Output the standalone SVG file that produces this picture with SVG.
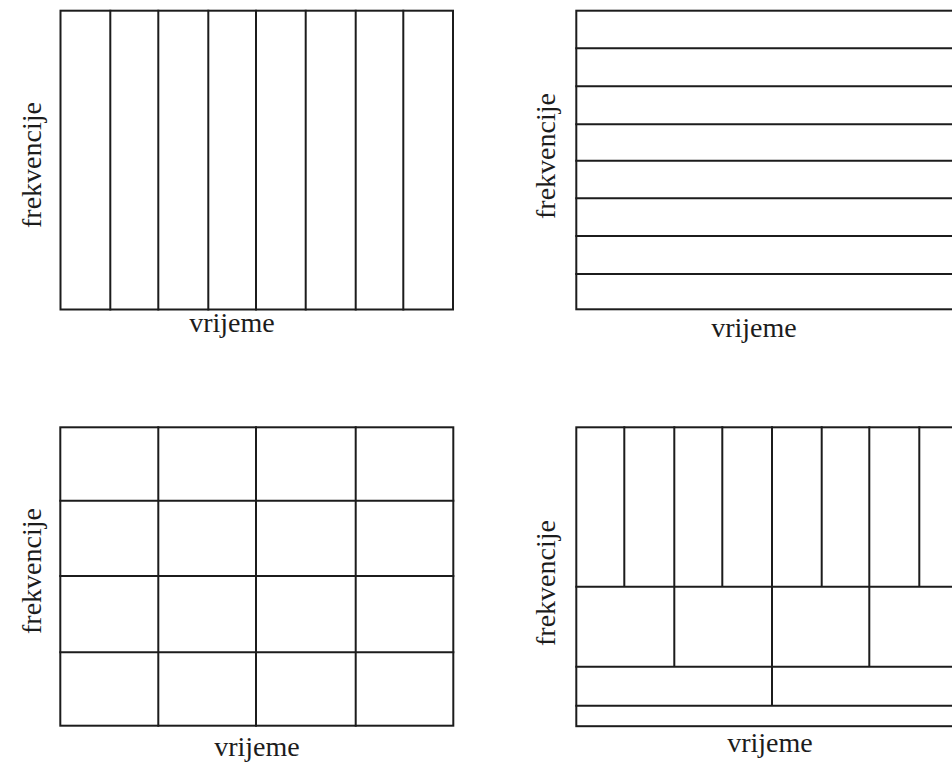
<svg xmlns="http://www.w3.org/2000/svg" width="952" height="765" viewBox="0 0 952 765">
<style>
.ln{stroke:#1c1c1c;stroke-width:2;fill:none;stroke-linecap:square}
.lbl{font-family:'Liberation Serif','Times New Roman','DejaVu Serif',serif;font-size:28px;fill:#1c1c1c;text-anchor:middle}
</style>
<rect width="952" height="765" fill="#ffffff"/>
<g id="panel1">
<rect class="ln" x="60.5" y="10.7" width="392.5" height="298.8"/>
<path class="ln" d="M110.3 10.7V309.5M158.3 10.7V309.5M208.3 10.7V309.5M256 10.7V309.5M305.7 10.7V309.5M355.7 10.7V309.5M403.3 10.7V309.5"/>
<text class="lbl" font-family="Liberation Serif, DejaVu Serif, serif" transform="translate(41,165) rotate(-90)">frekvencije</text>
<text class="lbl" font-family="Liberation Serif, DejaVu Serif, serif" x="232" y="332">vrijeme</text>
</g>
<g id="panel2">
<rect class="ln" x="576.3" y="10.7" width="392.5" height="298.6"/>
<path class="ln" d="M576.3 48.3H970M576.3 86.3H970M576.3 124.3H970M576.3 160.7H970M576.3 198.3H970M576.3 236H970M576.3 274H970"/>
<text class="lbl" font-family="Liberation Serif, DejaVu Serif, serif" transform="translate(555,156) rotate(-90)">frekvencije</text>
<text class="lbl" font-family="Liberation Serif, DejaVu Serif, serif" x="754" y="337">vrijeme</text>
</g>
<g id="panel3">
<rect class="ln" x="60.3" y="427.3" width="393" height="298.4"/>
<path class="ln" d="M158.3 427.3V725.7M256 427.3V725.7M355.7 427.3V725.7M60.3 500.7H453.3M60.3 576H453.3M60.3 652.3H453.3"/>
<text class="lbl" font-family="Liberation Serif, DejaVu Serif, serif" transform="translate(41,571) rotate(-90)">frekvencije</text>
<text class="lbl" font-family="Liberation Serif, DejaVu Serif, serif" x="257" y="756">vrijeme</text>
</g>
<g id="panel4">
<rect class="ln" x="576.3" y="427.3" width="392.5" height="298.9"/>
<path class="ln" d="M624.3 427.3V586.7M674.3 427.3V666.7M722.3 427.3V586.7M772 427.3V705.7M821.7 427.3V586.7M869.3 427.3V666.7M919.3 427.3V586.7M576.3 586.7H970M576.3 666.7H970M576.3 705.7H970"/>
<text class="lbl" font-family="Liberation Serif, DejaVu Serif, serif" transform="translate(555,583) rotate(-90)">frekvencije</text>
<text class="lbl" font-family="Liberation Serif, DejaVu Serif, serif" x="770" y="752">vrijeme</text>
</g>
<g id="connectors"/>
</svg>
